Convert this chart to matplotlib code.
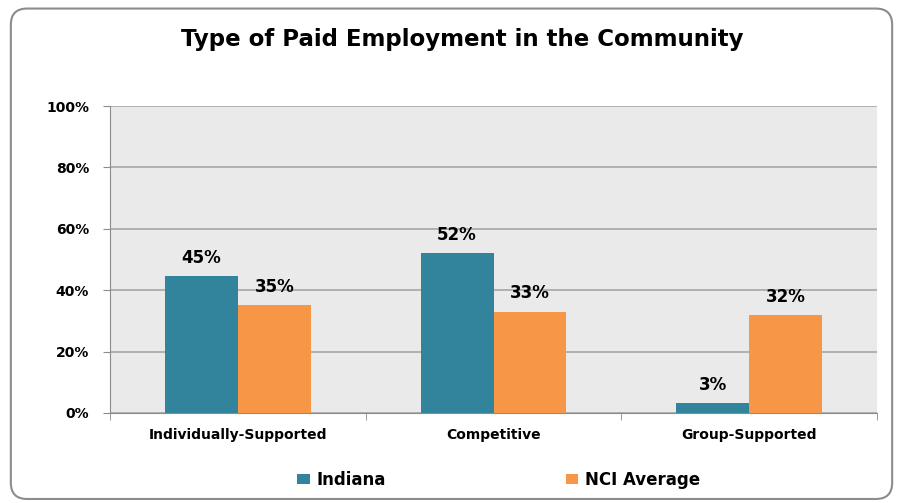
import matplotlib.pyplot as plt
from matplotlib.patches import FancyBboxPatch
import numpy as np

categories = ["Individually-Supported", "Competitive", "Group-Supported"]
indiana = [44.5, 52, 3.3]
nci = [35.2, 33, 32]
indiana_labels = ["45%", "52%", "3%"]
nci_labels = ["35%", "33%", "32%"]
yticks = [0, 20, 40, 60, 80, 100]

teal = "#31849B"
orange = "#F79646"

fig = plt.figure(figsize=(9.03, 5.03), dpi=100)
# outer rounded border
border = FancyBboxPatch((0.012, 0.008), 0.976, 0.975, boxstyle="round,pad=0,rounding_size=0.018",
                        transform=fig.transFigure, facecolor="none", edgecolor="#8C8C8C",
                        linewidth=1.5, mutation_aspect=903/503, zorder=-1)
fig.patches.append(border)

ax = fig.add_axes([110/903, 1 - 413/503, 767/903, 307/503])
ax.set_facecolor("#EAEAEA")

x = np.arange(len(categories))
w = 0.285
b1 = ax.bar(x - w/2, indiana, w, color=teal, label="Indiana", zorder=3)
b2 = ax.bar(x + w/2, nci, w, color=orange, label="NCI Average", zorder=3)

for i in range(len(categories)):
    ax.text(x[i] - w/2, indiana[i] + 3, indiana_labels[i], ha="center", va="bottom",
            fontsize=12, fontweight="bold")
    ax.text(x[i] + w/2, nci[i] + 3, nci_labels[i], ha="center", va="bottom",
            fontsize=12, fontweight="bold")

ax.set_xlim(-0.5, 2.5)
ax.set_ylim(0, 100)
ax.set_yticks(yticks)
ax.set_yticklabels([f"{v}%" for v in yticks], fontsize=10, fontweight="bold")
ax.yaxis.grid(True, color="#A6A6A6", linewidth=1.2, zorder=0)
ax.set_axisbelow(True)

ax.set_xticks(x)
ax.set_xticklabels(categories, fontsize=10, fontweight="bold")
ax.tick_params(axis="x", length=0, pad=11)
ax.set_xticks([-0.5, 0.5, 1.5, 2.5], minor=True)
ax.tick_params(axis="x", which="minor", length=5, color="#8C8C8C")
ax.tick_params(axis="y", length=5, color="#8C8C8C", pad=10)

for s in ["top", "right"]:
    ax.spines[s].set_visible(False)
ax.spines["left"].set_color("#8C8C8C")
ax.spines["bottom"].set_color("#8C8C8C")

fig.text(0.512, 0.922, "Type of Paid Employment in the Community", ha="center", va="center",
         fontsize=16.5, fontweight="bold")

fig.legend(handles=[b1, b2], loc="center", bbox_to_anchor=(0.552, 0.045), ncol=2,
           frameon=False, prop={"weight": "bold", "size": 12},
           handlelength=0.75, handleheight=0.55, columnspacing=10.8, handletextpad=0.4)

fig.savefig("out.png", dpi=100)
